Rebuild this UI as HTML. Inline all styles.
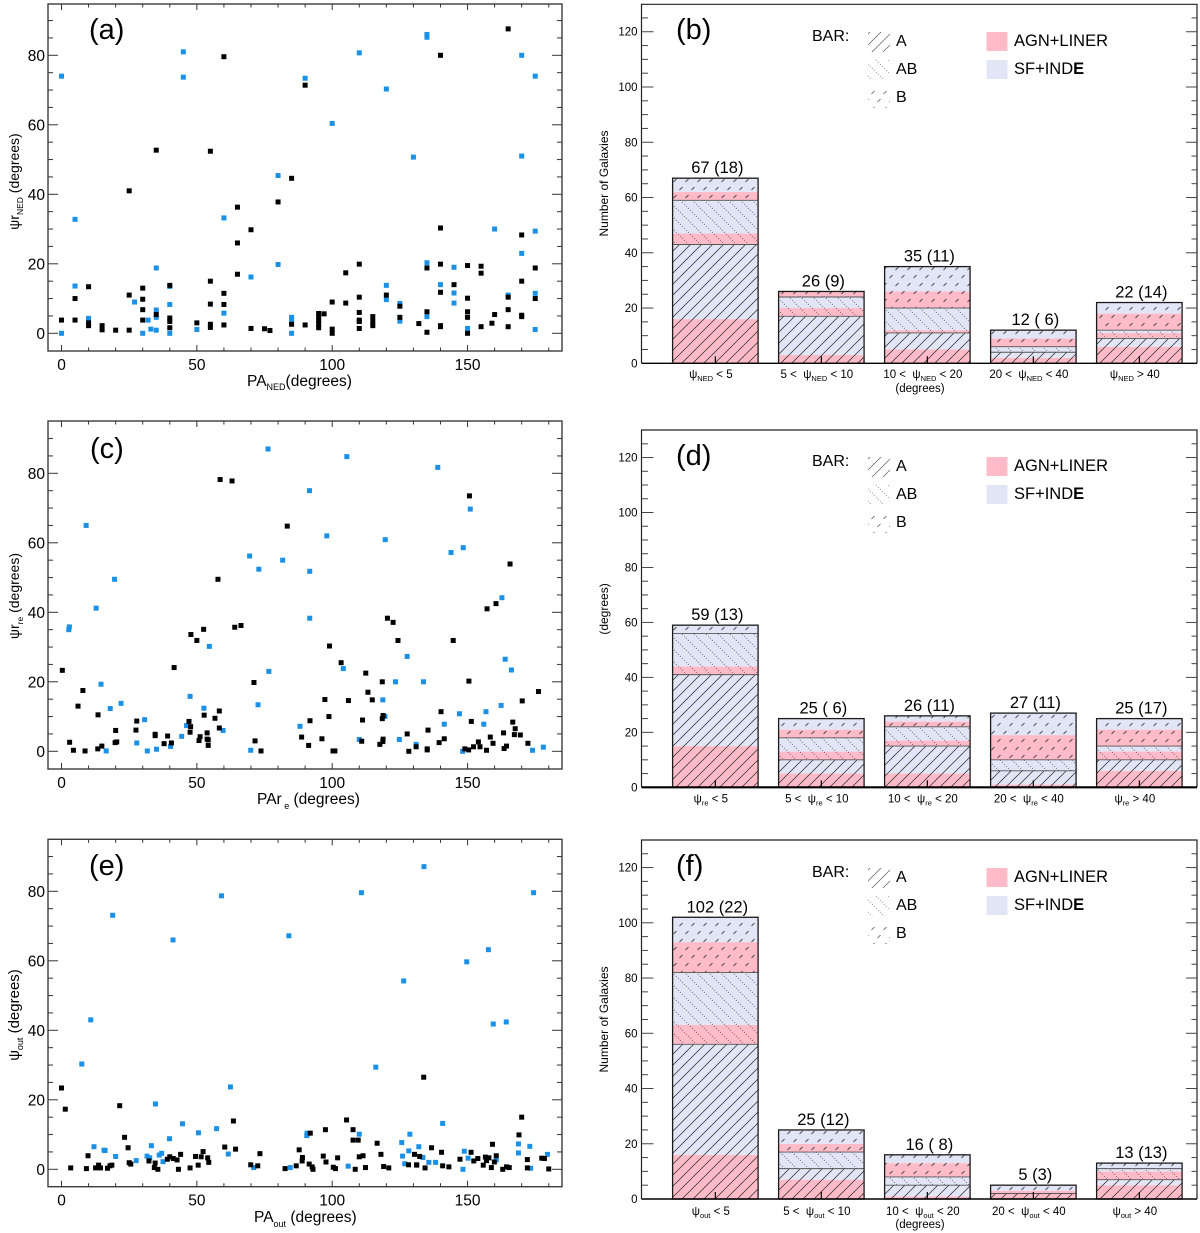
<!DOCTYPE html>
<html lang="en">
<head>
<meta charset="utf-8">
<title>Position angle and misalignment distributions</title>
<style>
html,body{margin:0;padding:0;background:#fff;}
svg{display:block;font-family:"Liberation Sans",sans-serif;fill:#000;}
</style>
</head>
<body>
<svg id="figure" width="1200" height="1233" viewBox="0 0 1200 1233" xmlns="http://www.w3.org/2000/svg">
<defs>
<pattern id="hatch-a" patternUnits="userSpaceOnUse" width="11" height="11">
<path d="M-1 12L12 -1M-4 4L4 -4M7 15L15 7" stroke="#222" stroke-width="0.7" fill="none"/>
</pattern>
<pattern id="hatch-ab" patternUnits="userSpaceOnUse" width="12" height="12">
<path d="M0 0L12 12" stroke="#333" stroke-width="0.8" stroke-dasharray="0.9 1.93" fill="none"/>
</pattern>
<pattern id="hatch-b" patternUnits="userSpaceOnUse" width="12" height="16">
<path d="M1.5 6L4.5 3M7.5 14L10.5 11" stroke="#222" stroke-width="0.8" fill="none"/>
</pattern>
</defs>

<g id="panel-a"></g>
<g id="panel-b"></g>
<g id="panel-c"></g>
<g id="panel-d"></g>
<g id="panel-e"></g>
<g id="panel-f"></g>

<g>
<text x="89" y="39" font-size="29">(a)</text>
<text x="90" y="458" font-size="29">(c)</text>
<text x="89" y="875" font-size="29">(e)</text>

<text x="247" y="386" font-size="15.5">PA<tspan font-size="9" dy="4">NED</tspan><tspan dy="-4">(degrees)</tspan></text>
<text x="257" y="804" font-size="15.5">PAr<tspan font-size="9" dy="5"> e</tspan><tspan dy="-5"> (degrees)</tspan></text>
<text x="254" y="1222" font-size="15.5">PA<tspan font-size="9" dy="5">out</tspan><tspan dy="-5"> (degrees)</tspan></text>

<text transform="translate(19,181.5) rotate(-90)" text-anchor="middle" font-size="14">ψr<tspan font-size="8.5" dy="4">NED</tspan><tspan dy="-4"> (degrees)</tspan></text>
<text transform="translate(19,596) rotate(-90)" text-anchor="middle" font-size="14">ψr<tspan font-size="8.5" dy="4">re</tspan><tspan dy="-4"> (degrees)</tspan></text>
<text transform="translate(19,1015) rotate(-90)" text-anchor="middle" font-size="15">ψ<tspan font-size="9" dy="4">out</tspan><tspan dy="-4"> (degrees)</tspan></text>
</g>

<g>
<text x="676" y="39" font-size="29">(b)</text>
<text x="676" y="465" font-size="29">(d)</text>
<text x="676" y="875" font-size="29">(f)</text>

<text transform="translate(608,183.5) rotate(-90)" text-anchor="middle" font-size="12">Number of Galaxies</text>
<text transform="translate(608,609) rotate(-90)" text-anchor="middle" font-size="12">(degrees)</text>
<text transform="translate(608,1019.5) rotate(-90)" text-anchor="middle" font-size="12">Number of Galaxies</text>

<text x="920" y="392" text-anchor="middle" font-size="11.5">(degrees)</text>
<text x="920" y="1228" text-anchor="middle" font-size="11.5">(degrees)</text>
</g>

<g>
<text x="812" y="41" font-size="16">BAR:</text>
<rect x="868" y="32" width="22" height="20" fill="url(#hatch-a)" opacity="0.75"/>
<rect x="868" y="60" width="22" height="20" fill="url(#hatch-ab)" opacity="0.75"/>
<rect x="868" y="88" width="22" height="20" fill="url(#hatch-b)" opacity="0.75"/>
<text x="896" y="46" font-size="16">A</text>
<text x="896" y="74" font-size="16">AB</text>
<text x="896" y="102" font-size="16">B</text>
<rect x="986.5" y="32" width="21" height="19" fill="#ffbcc8"/>
<rect x="986.5" y="60" width="21" height="19" fill="#e2e5f6"/>
<text x="1014" y="46" font-size="16.5">AGN+LINER</text>
<text x="1014" y="74" font-size="16.5">SF+IND<tspan font-weight="bold">E</tspan></text>
</g>

<g transform="translate(0,425)">
<text x="812" y="41" font-size="16">BAR:</text>
<rect x="868" y="32" width="22" height="20" fill="url(#hatch-a)" opacity="0.75"/>
<rect x="868" y="60" width="22" height="20" fill="url(#hatch-ab)" opacity="0.75"/>
<rect x="868" y="88" width="22" height="20" fill="url(#hatch-b)" opacity="0.75"/>
<text x="896" y="46" font-size="16">A</text>
<text x="896" y="74" font-size="16">AB</text>
<text x="896" y="102" font-size="16">B</text>
<rect x="986.5" y="32" width="21" height="19" fill="#ffbcc8"/>
<rect x="986.5" y="60" width="21" height="19" fill="#e2e5f6"/>
<text x="1014" y="46" font-size="16.5">AGN+LINER</text>
<text x="1014" y="74" font-size="16.5">SF+IND<tspan font-weight="bold">E</tspan></text>
</g>

<g transform="translate(0,836)">
<text x="812" y="41" font-size="16">BAR:</text>
<rect x="868" y="32" width="22" height="20" fill="url(#hatch-a)" opacity="0.75"/>
<rect x="868" y="60" width="22" height="20" fill="url(#hatch-ab)" opacity="0.75"/>
<rect x="868" y="88" width="22" height="20" fill="url(#hatch-b)" opacity="0.75"/>
<text x="896" y="46" font-size="16">A</text>
<text x="896" y="74" font-size="16">AB</text>
<text x="896" y="102" font-size="16">B</text>
<rect x="986.5" y="32" width="21" height="19" fill="#ffbcc8"/>
<rect x="986.5" y="60" width="21" height="19" fill="#e2e5f6"/>
<text x="1014" y="46" font-size="16.5">AGN+LINER</text>
<text x="1014" y="74" font-size="16.5">SF+IND<tspan font-weight="bold">E</tspan></text>
</g>
</svg>

<script>
/* ---------- scatter data: panel (a) ---------- */
const aBluePA = [
0,45,45,80,90,100,110,120,130,135,
135,170,175,170,5,60,160,175,170,80,
35,135,145,70,120,140,5,40,145,175,
165,120,27,125,40,145,60,35,35,135,
85,85,10,32,110,125,33,35,50,150,
175,0,30,40,85];
const aBluePsi = [
74,81,73.7,45.4,73.4,60.4,80.7,70.3,50.7,86,
85.2,80,74,51,32.8,33.2,30,29.4,23,19.8,
18.8,20.3,19,16.2,13.8,14,13.6,13.5,11.6,11.5,
11,9.7,9,8.6,8.3,8.7,5.8,6.7,4.6,4.8,
4.6,4,4.3,3.8,3.4,3.5,1.2,0.9,1.1,1.4,
1.1,0,0,0,0];
const aBlackPA = [
25,35,55,60,85,90,140,165,65,65,
65,70,80,140,170,175,105,110,135,140,
150,155,155,55,170,145,40,10,30,60,
140,25,120,110,165,150,175,5,30,100,
105,55,60,125,30,165,110,135,150,35,
95,97,160,95,170,170,115,125,150,40,
110,0,5,30,40,95,115,110,10,10,
50,132,159,55,60,85,90,95,15,115,
140,140,155,165,55,40,95,110,70,75,
15,20,25,77,100,100,135,150];
const aBlackPsi = [
41,52.7,52.4,79.6,44.6,71.4,80,87.6,36.3,26,
17,29.8,37.8,30.3,28.3,18.8,17.4,19.9,18.8,19.9,
19.5,19.3,17.3,15,15,14,13.8,13.4,13,11.5,
11.8,11,11,10.4,10.4,10.1,10,10,9.8,9,
8.7,8.4,8.3,7.8,6.8,6.8,6,6.2,6.2,5.4,
5.7,5.6,5.4,4.8,5.2,4.8,4.8,4.6,4.6,4.4,
3.8,3.8,3.8,3.8,3.4,3.7,3.4,3.4,3,2.2,
3,2.8,2.9,2.6,2.4,2.6,2.4,2.8,2.2,2.2,
2.2,1.9,1.9,1.9,1.7,1.6,1.6,1.4,1.4,1.3,
1,0.9,0.9,0.8,1.2,0,0.3,0];

/* ---------- scatter data: panel (c) ---------- */
const cBluePA = [
76.3,105.4,139,91.6,151,9.1,98,119.6,143.9,148.4,
69.5,72.9,81.7,91.7,19.6,12.8,162.7,91.7,2.9,2.7,
54.6,127.7,163.9,166.2,104.1,76.6,14.6,123.4,133.7,47.5,
22,18,52.6,72.6,118.7,162.4,156.8,147,119.5,30.7,
88.1,46.2,141.4,156,59.7,44.4,110,124.8,27.8,131,
40.3,35.1,31.7,16.5,69.9,148.2,174,178];
const cBluePsi = [
87,84.8,81.7,75,69.7,65,62,60.9,57.2,58.6,
56.2,52.4,55,51.8,49.5,41.2,44.2,38.3,35.8,35,
30.2,27.3,26.5,23.4,23.8,23,19.3,20,20,15.8,
13.8,12.3,12.4,13.4,14.8,13.2,11.4,10.8,10,9.1,
7.2,7.4,7.8,7.8,6,4.3,3.4,3.4,2.4,2,
1.4,0.6,0.1,0.1,0.3,0,0.3,1.2];
const cBlackPA = [
58.6,63,150.7,83.4,57.8,165.7,160.5,157.2,120.4,122.5,
0.3,7.9,6.1,13.5,3,4.4,8.7,13.4,14.9,20,
19.8,20.4,27.8,27.5,34.6,34.6,39.2,37.9,40.6,41.6,
47.8,50,52.5,64,66.3,47.1,47.7,47.5,51.2,50.8,
52.7,53.8,53.8,54.2,54.2,56.7,58.3,58.3,71.1,71.5,
73.7,91.8,88.7,91.3,96.2,97.3,99,98.8,100.3,101,
103.3,106,110.9,111.2,112.4,113.2,114.8,118.5,118.8,118.5,
118.8,118.7,117.6,124.3,127.7,128.3,131,135.1,135.1,135.4,
139.5,140.2,141.4,144.7,149,150.4,150.5,151.4,152.2,154,
154.6,157,158.4,159.4,163.3,163.5,164.4,166.7,167.6,167.3,
169.5,170.2,172.3,176.2];
const cBlackPsi = [
78.2,77.8,73.5,64.8,49.5,53.9,42.5,41,38.3,37.1,
23.3,17.5,13,10.5,2.6,0.3,0.1,0.7,1.5,6,
2.5,2.7,8.7,6.1,4.9,4.5,4.4,2.2,2.4,24.1,
33.6,31.9,35.1,35.7,36.2,8.6,7.1,5.5,4.2,3.1,
10.4,5.3,3.5,3.3,1.7,9.5,11.6,6.7,19.8,3,
0.1,8.8,4.1,1.7,3.6,14.9,30.3,10,0.1,0.1,
25.5,14.6,2.9,9,22.5,17,14.8,20,10.3,9.4,
3.5,2.8,2,31.9,5,0,1.3,0.7,0.4,6.1,
2.5,11.4,3.6,31.9,0.7,0.4,20.2,8.6,1.3,2.7,
1.3,0.3,4.1,2.3,5.3,0.8,1.5,8.4,6.5,4.8,
4.7,14.5,2.3,17.2];

/* ---------- scatter data: panel (e) ---------- */
const eBluePA = [
18.9,41.2,59.1,84,110.8,133.9,126.4,149.7,157.7,159.5,
164.3,174.4,10.8,7.5,116.1,62.4,34.7,44.7,140.8,50.6,
57.3,39.9,90.7,90.6,110,128.7,12,33.2,125.7,132,
168.8,173,15.7,16.1,128.3,148.8,61.6,37,36.1,168.8,
179.5,20,31.6,32.6,126,133.5,150.2,160.6,27.6,37.5,
135.7,138.2,126.8,105.9,84.5,71,148.3,173.3];
const eBluePsi = [
73.1,66,78.7,67.2,79.6,87.1,54.2,59.7,63.2,41.8,
42.4,79.6,43,30.3,29.4,23.7,18.8,13.1,13.2,10.5,
11.7,8.8,10.4,9.7,10.1,10.1,6.5,6.8,7.7,6.5,
7.3,6.6,5.5,5.4,5.3,5.2,4.4,4.6,4.1,4.7,
4.3,3.7,3.8,3.3,3.8,3.4,3.2,2.7,2.5,2.2,
2,2,1.6,0.9,0.5,0.5,0,0.3];
const eBlackPA = [
0,1.4,21.5,133.8,23.3,24.6,9.8,3.4,9.2,12.6,
13.7,14.4,17,17.9,18.6,25,25.6,32.3,34.6,34.3,
35.6,39.1,40,41.3,42.7,43.2,44,47.5,49.5,50.5,
51.6,52.3,54,54.4,60.3,63.5,64.3,69.9,72.5,73.3,
82.6,86.7,87.8,89,88.9,91.5,92.6,92.9,91.9,97.5,
96.7,97.7,100.4,101.2,102,105.3,107.7,107.7,109.6,108.5,
110,111.4,112.3,116.6,118,119,120.9,128.2,130.4,131.2,
131.2,132.3,134.3,136.7,140.4,140.8,143.1,147.2,151.3,152.3,
153.8,155.8,156.6,157,157.9,158.8,159.2,159.9,160.6,163,
164.4,165.4,169,170,172.1,172.1,177.4,178.4,180];
const eBlackPsi = [
23.4,17.3,18.3,26.5,9.2,6.2,3.9,0.4,0.2,0.4,
1.2,0.4,0.3,1,1.2,1.9,1.5,2.4,1.8,0.5,
0,2.9,3.6,3.1,2.7,0,4.3,0.4,3.7,1.2,
3.6,5.1,3.3,2,6.4,13.9,5.8,1.3,1,4.5,
0.2,1,5.6,3.4,2.4,1.5,0.7,0,10.4,11.4,
3.8,2.1,0.6,0.2,3.3,14.2,11.4,8.4,8.4,0,
3.6,3.9,0.5,7.5,4.3,0.8,0.4,1.3,4.3,1.3,
1.2,3.7,0.4,6.2,4.9,1,0.7,2.9,4.9,2.4,
3.1,1.2,3.5,2.5,3.3,0.5,7.2,2.1,3.9,0,
0.7,0.5,9.9,15,2.8,0.4,3.2,3.1,0.1];

/* ---------- bar data: panel (b) ---------- */
const bAgnA  = [16,3,5,2,6];
const bSfA   = [27,14,6,2,3];
const bAgnAB = [4,3,1,0,2];
const bSfAB  = [12,4,8,2,1];
const bAgnB  = [3,2,6,3,6];
const bSfB   = [5,0,9,3,4];
const bCounts = ['67 (18)','26 (9)','35 (11)','12 ( 6)','22 (14)'];

/* ---------- bar data: panel (d) ---------- */
const dAgnA  = [15,5,5,1,6];
const dSfA   = [26,5,10,5,4];
const dAgnAB = [3,3,2,0,3];
const dSfAB  = [12,5,5,4,2];
const dAgnB  = [0,3,2,9,6];
const dSfB   = [3,4,2,8,4];
const dCounts = ['59 (13)','25 ( 6)','26 (11)','27 (11)','25 (17)'];

/* ---------- bar data: panel (f) ---------- */
const fAgnA  = [16,7,1,2,5];
const fSfA   = [40,4,4,0,2];
const fAgnAB = [7,0,0,0,3];
const fSfAB  = [19,6,3,0,1];
const fAgnB  = [11,3,5,1,0];
const fSfB   = [9,5,3,2,2];
const fCounts = ['102 (22)','25 (12)','16 ( 8)','5 (3)','13 (13)'];

/* ---------- shared labels ---------- */
const scatterXTicks = [0,50,100,150];
const scatterYTicks = [0,20,40,60,80];
const barYTicks = [0,20,40,60,80,100,120];
const catPrefix = ['','5 <  ','10 <  ','20 <  ',''];
const catSuffix = ['< 5','< 10','< 20','< 40','> 40'];

const NS = 'http://www.w3.org/2000/svg';
function add(parent, tag, attrs) {
  const n = document.createElementNS(NS, tag);
  for (const k in attrs) n.setAttribute(k, attrs[k]);
  parent.appendChild(n);
  return n;
}

function drawScatter(id, top, bottom, zeroY, blueX, blueY, blackX, blackY) {
  const g = document.getElementById(id);
  const left = 48, right = 562;
  const xS = v => 61.5 + v * 2.707;
  const yS = v => zeroY - v * 3.475;

  const frame = add(g, 'rect', {x:left, y:top, width:right-left, height:bottom-top, fill:'none', stroke:'#3c3c3c', 'stroke-width':1.4});
  
  

  for (let v = 0; v <= 180; v += 10) {
    const len = v % 50 === 0 ? 6 : 3.5;
    const px = xS(v);
    const tb = add(g, 'line', {x1:px, x2:px, y1:bottom, y2:bottom-len, stroke:'#333', 'stroke-width':1});
    
    
    const tt = add(g, 'line', {x1:px, x2:px, y1:top, y2:top+len, stroke:'#333', 'stroke-width':1});
    
    
  }
  for (let v = -5; yS(v) > top + 1; v += 5) {
    if (v === -5) continue;
    const len = v % 20 === 0 ? 10 : 5;
    const py = yS(v);
    const tl = add(g, 'line', {x1:left, x2:left+len, y1:py, y2:py, stroke:'#333', 'stroke-width':1});
    
    
    const tr = add(g, 'line', {x1:right, x2:right-len, y1:py, y2:py, stroke:'#333', 'stroke-width':1});
    
    
  }
  scatterXTicks.forEach(v => {
    const t = add(g, 'text', {x:xS(v), y:bottom+19, 'text-anchor':'middle', 'font-size':15.5});
    t.textContent = v;
    
    
  });
  scatterYTicks.forEach(v => {
    const t = add(g, 'text', {x:45, y:yS(v)+5.5, 'text-anchor':'end', 'font-size':15.5});
    t.textContent = v;
    
    
  });
  blueX.forEach((v, i) => {
    const m = add(g, 'rect', {x:xS(v)-2.5, y:yS(blueY[i])-2.5, width:5, height:5, fill:'#1a90e6'});
    
    
  });
  blackX.forEach((v, i) => {
    const m = add(g, 'rect', {x:xS(v)-2.5, y:yS(blackY[i])-2.5, width:5, height:5, fill:'#000'});
    
    
  });
}

function drawBars(id, top, zeroY, unit, axisWidth, sub, labelY, agnA, sfA, agnAB, sfAB, agnB, sfB, counts) {
  const g = document.getElementById(id);
  const left = 641.5, right = 1197;
  const yS = v => zeroY - v * unit;
  const barX = i => 672.6 + i * 106;
  const barW = 85.5;

  const frame = add(g, 'path', {d:'M'+left+' '+zeroY+'V'+top+'H'+right+'V'+zeroY, fill:'none', stroke:'#222', 'stroke-width':1.2});
  
  

  for (let v = 0; yS(v) > top + 3; v += 5) {
    const major = v % 20 === 0;
    const py = yS(v);
    if (v > 0) {
      const tl = add(g, 'line', {x1:left, x2:left+(major?12:6.5), y1:py, y2:py, stroke:'#444', 'stroke-width':1});
      
      
      const tr = add(g, 'line', {x1:right, x2:right-(major?11:5.5), y1:py, y2:py, stroke:'#444', 'stroke-width':1});
      
      
    }
  }
  barYTicks.forEach(v => {
    const t = add(g, 'text', {x:637.5, y:yS(v)+4, 'text-anchor':'end', 'font-size':11.5});
    t.textContent = v;
    
    
  });

  agnA.forEach((_, i) => {
    const x = barX(i);
    const stack = [
      [agnA[i], '#ffbcc8'], [sfA[i], '#e2e5f6'],
      [agnAB[i], '#ffbcc8'], [sfAB[i], '#e2e5f6'],
      [agnB[i], '#ffbcc8'], [sfB[i], '#e2e5f6']
    ];
    let base = 0;
    stack.forEach(seg => {
      const r = add(g, 'rect', {x:x, y:yS(base+seg[0]), width:barW, height:seg[0]*unit, fill:seg[1]});
      
      
      base += seg[0];
    });
    const aTop = agnA[i] + sfA[i];
    const abTop = aTop + agnAB[i] + sfAB[i];
    const total = abTop + agnB[i] + sfB[i];

    const hA = add(g, 'rect', {x:x, y:yS(aTop), width:barW, height:aTop*unit, fill:'url(#hatch-a)'});
    
    
    const hAB = add(g, 'rect', {x:x, y:yS(abTop), width:barW, height:(abTop-aTop)*unit, fill:'url(#hatch-ab)'});
    
    
    const hB = add(g, 'rect', {x:x, y:yS(total), width:barW, height:(total-abTop)*unit, fill:'url(#hatch-b)'});
    
    

    const l1 = add(g, 'line', {x1:x, x2:x+barW, y1:yS(aTop), y2:yS(aTop), stroke:'#555', 'stroke-width':0.9});
    
    
    const l2 = add(g, 'line', {x1:x, x2:x+barW, y1:yS(abTop), y2:yS(abTop), stroke:'#555', 'stroke-width':0.9});
    
    

    const outline = add(g, 'rect', {x:x, y:yS(total), width:barW, height:total*unit, fill:'none', stroke:'#1a1a1a', 'stroke-width':1.3});
    
    

    const tick = add(g, 'line', {x1:x+barW/2, x2:x+barW/2, y1:zeroY, y2:zeroY-7, stroke:'#000', 'stroke-width':1.2});
    
    

    const c = add(g, 'text', {x:x+barW/2+2, y:yS(total)-5, 'text-anchor':'middle', 'font-size':16.5});
    c.textContent = counts[i];
    
    

    const lab = add(g, 'text', {x:x+barW/2-4.5, y:labelY, 'text-anchor':'middle', 'font-size':11.5});
    
    
    lab.style.whiteSpace = 'pre';
    const p = add(lab, 'tspan', {});
    p.textContent = catPrefix[i] + 'ψ';
    const s = add(lab, 'tspan', {'font-size':7.5, dy:3});
    s.textContent = sub;
    const e = add(lab, 'tspan', {dy:-3});
    e.textContent = ' ' + catSuffix[i];
  });

  const axis = add(g, 'line', {x1:left, x2:right, y1:zeroY, y2:zeroY, stroke:'#000', 'stroke-width':axisWidth});
  
  
}

drawScatter('panel-a', 4, 351, 333.3, aBluePA, aBluePsi, aBlackPA, aBlackPsi);
drawScatter('panel-c', 421, 769, 751.3, cBluePA, cBluePsi, cBlackPA, cBlackPsi);
drawScatter('panel-e', 839.3, 1186.7, 1169.3, eBluePA, eBluePsi, eBlackPA, eBlackPsi);
drawBars('panel-b', 4.3, 363.3, 2.763, 1.4, 'NED', 378, bAgnA, bSfA, bAgnAB, bSfAB, bAgnB, bSfB, bCounts);
drawBars('panel-d', 430, 787.3, 2.748, 2.2, 're', 802.5, dAgnA, dSfA, dAgnAB, dSfAB, dAgnB, dSfB, dCounts);
drawBars('panel-f', 840, 1199, 2.762, 1.4, 'out', 1215, fAgnA, fSfA, fAgnAB, fSfAB, fAgnB, fSfB, fCounts);
</script>
</body>
</html>
